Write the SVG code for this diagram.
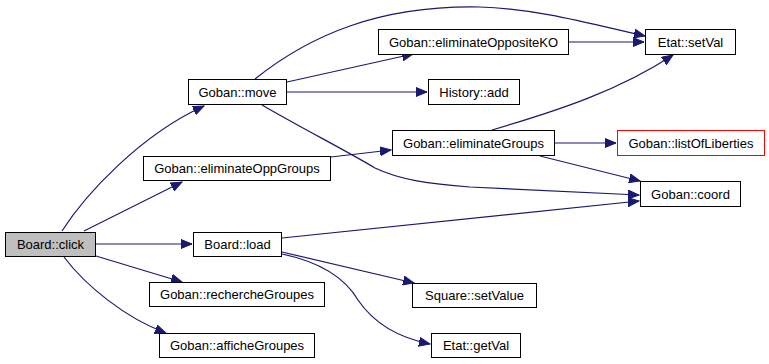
<svg xmlns="http://www.w3.org/2000/svg" width="769" height="364" viewBox="0 0 769 364">
  <style>
    .node rect { fill: #ffffff; stroke: #000000; stroke-width: 1; }
    .node text { font-family: "Liberation Sans", Arial, sans-serif; font-size: 13px; fill: #000000; text-anchor: middle; }
    .root rect { fill: #bfbfbf; }
    .missing rect { stroke: #ff0000; }
    .edges path { fill: none; stroke: #191970; stroke-width: 1.2; marker-end: url(#arrow); }
  </style>
  <defs>
    <marker id="arrow" markerUnits="userSpaceOnUse" markerWidth="12" markerHeight="10" refX="11" refY="5" orient="auto" viewBox="0 0 12 10">
      <path d="M0,0.5 L11,5 L0,9.5 Z" fill="#191970" stroke="#191970" stroke-width="1"/>
    </marker>
  </defs>
  <rect width="769" height="364" fill="#ffffff"/>

  <!-- call edges -->
  <g id="edges" class="edges">
    <path d="M62,231 C85,195 140,135 204,106"/>
    <path d="M84,231 L182,182"/>
    <path d="M96,244 L192,244"/>
    <path d="M96,256 L182,282"/>
    <path d="M64,257 C85,285 125,318 166,333"/>
    <path d="M255,79 C310,35 380,5 480,7 C540,9 595,25 645,36"/>
    <path d="M287,82 L413,54"/>
    <path d="M287,92 L427,92"/>
    <path d="M262,105 C305,130 345,150 375,168 C400,180 430,184 470,187 C530,190 590,193 639,195"/>
    <path d="M331,157 L391,150"/>
    <path d="M569,42 L644,42"/>
    <path d="M492,130 C560,110 620,90 673,55"/>
    <path d="M555,143 L616,143"/>
    <path d="M540,156 L640,181"/>
    <path d="M282,238 L639,201"/>
    <path d="M282,252 L414,283"/>
    <path d="M282,254 C320,262 345,278 358,300 C375,325 400,338 430,344"/>
  </g>

  <g id="board_click" class="node root">
    <rect x="5.5" y="232.5" width="90" height="24"/>
    <text x="50.5" y="249">Board::click</text>
  </g>
  <g id="goban_move" class="node">
    <rect x="188.5" y="79.5" width="98" height="25"/>
    <text x="237.5" y="96.5">Goban::move</text>
  </g>
  <g id="goban_eliminateOppGroups" class="node">
    <rect x="143.5" y="156.5" width="187" height="24"/>
    <text x="237" y="173">Goban::eliminateOppGroups</text>
  </g>
  <g id="board_load" class="node">
    <rect x="193.5" y="232.5" width="88" height="24"/>
    <text x="237.5" y="249">Board::load</text>
  </g>
  <g id="goban_rechercheGroupes" class="node">
    <rect x="149.5" y="282.5" width="175" height="24"/>
    <text x="237" y="299">Goban::rechercheGroupes</text>
  </g>
  <g id="goban_afficheGroupes" class="node">
    <rect x="159.5" y="333.5" width="155" height="24"/>
    <text x="237" y="350">Goban::afficheGroupes</text>
  </g>
  <g id="goban_eliminateOppositeKO" class="node">
    <rect x="378.5" y="29.5" width="190" height="25"/>
    <text x="473.5" y="46.5">Goban::eliminateOppositeKO</text>
  </g>
  <g id="history_add" class="node">
    <rect x="428.5" y="79.5" width="91" height="25"/>
    <text x="474" y="96.5">History::add</text>
  </g>
  <g id="goban_eliminateGroups" class="node">
    <rect x="392.5" y="130.5" width="162" height="25"/>
    <text x="473.5" y="147.5">Goban::eliminateGroups</text>
  </g>
  <g id="square_setValue" class="node">
    <rect x="412.5" y="283.5" width="124" height="24"/>
    <text x="474.5" y="300">Square::setValue</text>
  </g>
  <g id="etat_getVal" class="node">
    <rect x="431.5" y="333.5" width="89" height="24"/>
    <text x="476" y="350">Etat::getVal</text>
  </g>
  <g id="etat_setVal" class="node">
    <rect x="645.5" y="29.5" width="90" height="25"/>
    <text x="690.5" y="46.5">Etat::setVal</text>
  </g>
  <g id="goban_listOfLiberties" class="node missing">
    <rect x="617.5" y="130.5" width="147" height="25"/>
    <text x="691" y="147.5">Goban::listOfLiberties</text>
  </g>
  <g id="goban_coord" class="node">
    <rect x="640.5" y="181.5" width="100" height="25"/>
    <text x="690.5" y="198.5">Goban::coord</text>
  </g>
</svg>
